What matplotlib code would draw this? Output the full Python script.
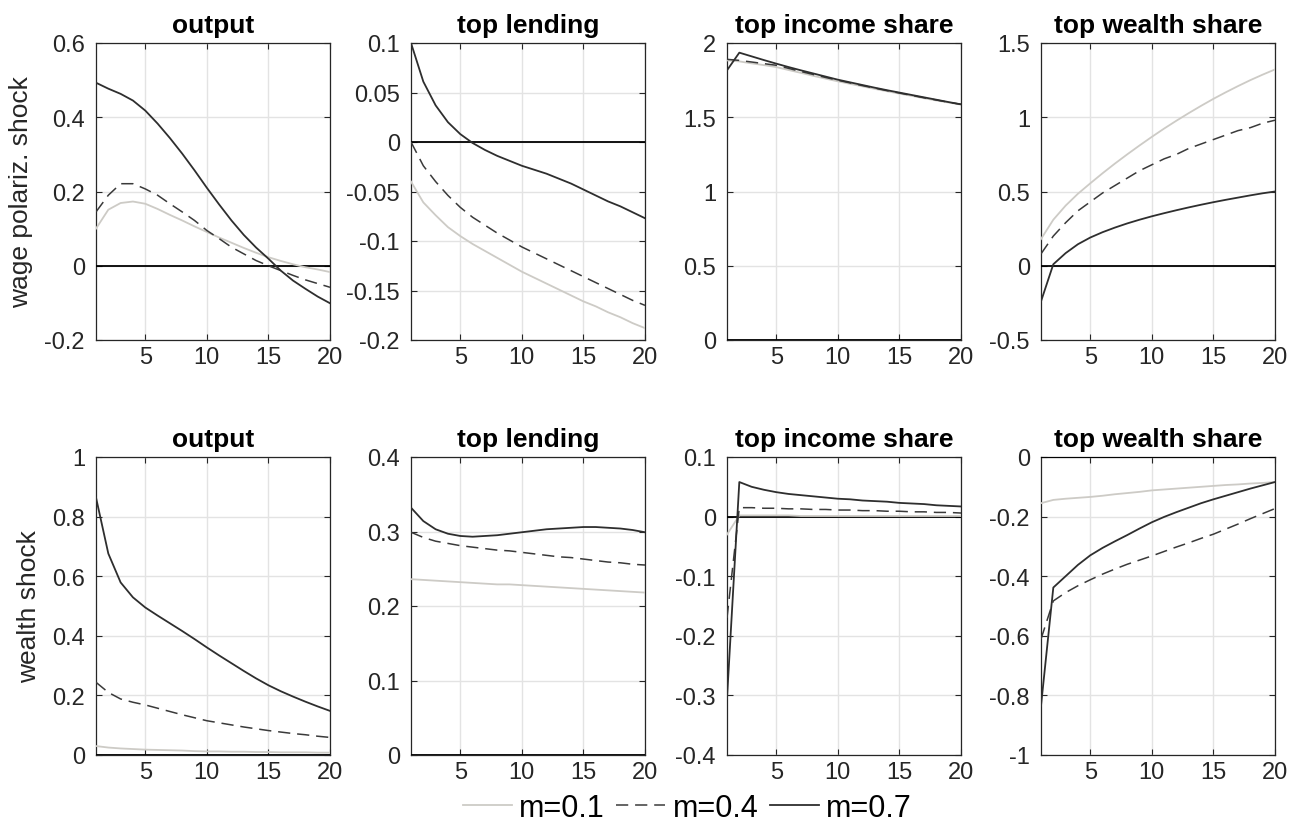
import numpy as np
import matplotlib
matplotlib.use("Agg")
from matplotlib import pyplot as plt

plt.rcParams['font.family'] = ['Liberation Sans', 'DejaVu Sans']

# horizon
t = np.arange(1, 21)

titles = ["output", "top lending", "top income share", "top wealth share"]
row_labels = ["wage polariz. shock", "wealth shock"]
labels = ["m=0.1", "m=0.4", "m=0.7"]

# ---- wage polarization shock ----
wp_output_01 = [0.100, 0.151, 0.169, 0.173, 0.167, 0.153, 0.137, 0.122, 0.106, 0.091,
                0.076, 0.062, 0.048, 0.035, 0.023, 0.013, 0.004, -0.004, -0.010, -0.017]
wp_output_04 = [0.145, 0.190, 0.221, 0.221, 0.207, 0.190, 0.167, 0.145, 0.122, 0.095,
                0.073, 0.050, 0.032, 0.014, 0.000, -0.013, -0.026, -0.038, -0.048, -0.058]
wp_output_07 = [0.493, 0.477, 0.463, 0.445, 0.418, 0.383, 0.344, 0.302, 0.257, 0.210,
                0.165, 0.122, 0.083, 0.049, 0.019, -0.013, -0.040, -0.062, -0.083, -0.101]

wp_lend_01 = [-0.040, -0.061, -0.074, -0.086, -0.095, -0.103, -0.110, -0.117, -0.124, -0.131,
              -0.137, -0.143, -0.149, -0.155, -0.161, -0.166, -0.172, -0.177, -0.183, -0.188]
wp_lend_04 = [0.000, -0.024, -0.040, -0.054, -0.066, -0.076, -0.084, -0.092, -0.099, -0.106,
              -0.112, -0.118, -0.124, -0.130, -0.136, -0.142, -0.148, -0.154, -0.160, -0.165]
wp_lend_07 = [0.100, 0.061, 0.037, 0.020, 0.008, -0.001, -0.008, -0.014, -0.019, -0.024,
              -0.028, -0.032, -0.037, -0.042, -0.048, -0.054, -0.060, -0.065, -0.071, -0.077]

wp_inc_01 = [1.883, 1.876, 1.863, 1.851, 1.838, 1.818, 1.799, 1.779, 1.760, 1.742,
             1.725, 1.708, 1.691, 1.675, 1.659, 1.644, 1.628, 1.613, 1.599, 1.585]
wp_inc_04 = [1.890, 1.883, 1.872, 1.861, 1.850, 1.829, 1.808, 1.788, 1.768, 1.749,
             1.731, 1.713, 1.696, 1.679, 1.663, 1.647, 1.631, 1.616, 1.601, 1.587]
wp_inc_07 = [1.816, 1.935, 1.910, 1.885, 1.861, 1.838, 1.816, 1.795, 1.774, 1.753,
             1.735, 1.717, 1.699, 1.682, 1.666, 1.650, 1.634, 1.618, 1.602, 1.587]

wp_wealth_01 = [0.180, 0.310, 0.405, 0.485, 0.555, 0.623, 0.688, 0.750, 0.810, 0.868,
                0.924, 0.977, 1.028, 1.077, 1.124, 1.168, 1.210, 1.250, 1.287, 1.322]
wp_wealth_04 = [0.08, 0.20, 0.29, 0.37, 0.43, 0.49, 0.54, 0.59, 0.64, 0.68,
                0.72, 0.75, 0.79, 0.82, 0.85, 0.88, 0.91, 0.93, 0.96, 0.98]
wp_wealth_07 = [-0.240, 0.010, 0.085, 0.145, 0.190, 0.226, 0.257, 0.285, 0.310, 0.333,
                0.354, 0.374, 0.393, 0.411, 0.428, 0.444, 0.459, 0.474, 0.488, 0.500]

# ---- wealth shock ----
ws_output_01 = [0.030, 0.025, 0.022, 0.020, 0.018, 0.017, 0.016, 0.015, 0.013, 0.012,
                0.012, 0.011, 0.011, 0.010, 0.010, 0.009, 0.009, 0.009, 0.008, 0.008]
ws_output_04 = [0.244, 0.210, 0.188, 0.177, 0.168, 0.157, 0.146, 0.135, 0.125, 0.115,
                0.108, 0.101, 0.094, 0.088, 0.082, 0.077, 0.072, 0.068, 0.063, 0.059]
ws_output_07 = [0.864, 0.676, 0.579, 0.529, 0.495, 0.468, 0.442, 0.416, 0.389, 0.361,
                0.334, 0.308, 0.282, 0.257, 0.234, 0.214, 0.196, 0.179, 0.163, 0.148]

ws_lend_01 = [0.236, 0.235, 0.234, 0.233, 0.232, 0.231, 0.230, 0.229, 0.229, 0.228,
              0.227, 0.226, 0.225, 0.224, 0.223, 0.222, 0.221, 0.220, 0.219, 0.218]
ws_lend_04 = [0.299, 0.292, 0.287, 0.284, 0.281, 0.279, 0.277, 0.275, 0.274, 0.272,
              0.270, 0.268, 0.266, 0.265, 0.263, 0.261, 0.259, 0.258, 0.256, 0.255]
ws_lend_07 = [0.332, 0.314, 0.303, 0.297, 0.294, 0.293, 0.294, 0.295, 0.297, 0.299,
              0.301, 0.303, 0.304, 0.305, 0.306, 0.306, 0.305, 0.304, 0.302, 0.299]

ws_inc_01 = [-0.030, 0.002, 0.002, 0.002, 0.002, 0.002, 0.001, 0.001, 0.001, 0.001,
             0.001, 0.001, 0.001, 0.001, 0.001, 0.001, 0.001, 0.001, 0.001, 0.001]
ws_inc_04 = [-0.170, 0.015, 0.015, 0.014, 0.014, 0.013, 0.013, 0.012, 0.012, 0.011,
             0.011, 0.010, 0.010, 0.009, 0.009, 0.008, 0.008, 0.007, 0.007, 0.006]
ws_inc_07 = [-0.305, 0.058, 0.050, 0.045, 0.041, 0.038, 0.036, 0.034, 0.032, 0.030,
             0.029, 0.027, 0.026, 0.025, 0.023, 0.022, 0.021, 0.019, 0.018, 0.017]

ws_wealth_01 = [-0.155, -0.144, -0.140, -0.137, -0.134, -0.130, -0.125, -0.121, -0.117, -0.112,
                -0.109, -0.106, -0.103, -0.100, -0.097, -0.094, -0.092, -0.089, -0.087, -0.084]
ws_wealth_04 = [-0.611, -0.483, -0.455, -0.432, -0.412, -0.393, -0.376, -0.360, -0.346, -0.332,
                -0.317, -0.302, -0.288, -0.273, -0.259, -0.242, -0.225, -0.207, -0.190, -0.173]
ws_wealth_07 = [-0.835, -0.438, -0.400, -0.362, -0.330, -0.305, -0.283, -0.262, -0.240, -0.219,
                -0.201, -0.185, -0.170, -0.155, -0.142, -0.130, -0.118, -0.106, -0.095, -0.084]

panels = [
    [(wp_output_01, wp_output_04, wp_output_07), (wp_lend_01, wp_lend_04, wp_lend_07),
     (wp_inc_01, wp_inc_04, wp_inc_07), (wp_wealth_01, wp_wealth_04, wp_wealth_07)],
    [(ws_output_01, ws_output_04, ws_output_07), (ws_lend_01, ws_lend_04, ws_lend_07),
     (ws_inc_01, ws_inc_04, ws_inc_07), (ws_wealth_01, ws_wealth_04, ws_wealth_07)],
]

ylims = [[(-0.2, 0.6), (-0.2, 0.1), (0, 2), (-0.5, 1.5)],
         [(0, 1), (0, 0.4), (-0.4, 0.1), (-1, 0)]]
yticks = [[[-0.2, 0, 0.2, 0.4, 0.6], [-0.2, -0.15, -0.1, -0.05, 0, 0.05, 0.1],
           [0, 0.5, 1, 1.5, 2], [-0.5, 0, 0.5, 1, 1.5]],
          [[0, 0.2, 0.4, 0.6, 0.8, 1], [0, 0.1, 0.2, 0.3, 0.4],
           [-0.4, -0.3, -0.2, -0.1, 0, 0.1], [-1, -0.8, -0.6, -0.4, -0.2, 0]]]

styles = [dict(color="#cdcbc6", ls="-", lw=1.3),
          dict(color="#3a3a3a", ls=(0, (8, 4.5)), lw=1.1),
          dict(color="#2e2e2e", ls="-", lw=1.3)]

fig = plt.figure(figsize=(13.02, 8.29), dpi=100)
lefts = [96, 411, 727, 1041]
width = 234
tops = [44, 458]
height = [297, 298]
W, H = 1302.0, 829.0

handles = []
for r in range(2):
    for c in range(4):
        ax = fig.add_axes([lefts[c] / W, 1 - (tops[r] + height[r]) / H, width / W, height[r] / H])
        ax.grid(True, color="#e3e3e3", lw=1.0)
        ax.set_axisbelow(True)
        ax.axhline(0, color="black", lw=1.3, zorder=3)
        for series, st in zip(panels[r][c], styles):
            h, = ax.plot(t, series, zorder=4, **st)
            if r == 0 and c == 0:
                handles.append(h)
        ax.set_xlim(1, 20)
        ax.set_ylim(*ylims[r][c])
        ax.set_xticks([5, 10, 15, 20])
        ax.set_yticks(yticks[r][c])
        ax.set_yticklabels(["%g" % v for v in yticks[r][c]])
        ax.tick_params(direction="in", length=4, width=0.8, labelsize=17,
                       colors="#262626", top=True, right=True)
        ax.tick_params(axis="x", pad=4)
        ax.tick_params(axis="y", pad=8)
        for sp in ax.spines.values():
            sp.set_color("#262626")
            sp.set_linewidth(0.9)
        ax.set_title(titles[c], fontsize=19, fontweight="bold", pad=8)
        if c == 0:
            ax.set_ylabel(row_labels[r], fontsize=19, color="#262626", labelpad=8)

fig.legend(handles, labels, loc="center", bbox_to_anchor=(0.528, 1 - 809 / H), ncol=3,
           frameon=False, fontsize=22, handlelength=1.6, handletextpad=0.25,
           columnspacing=0.37, borderaxespad=0)

fig.savefig("out.png", dpi=100)
